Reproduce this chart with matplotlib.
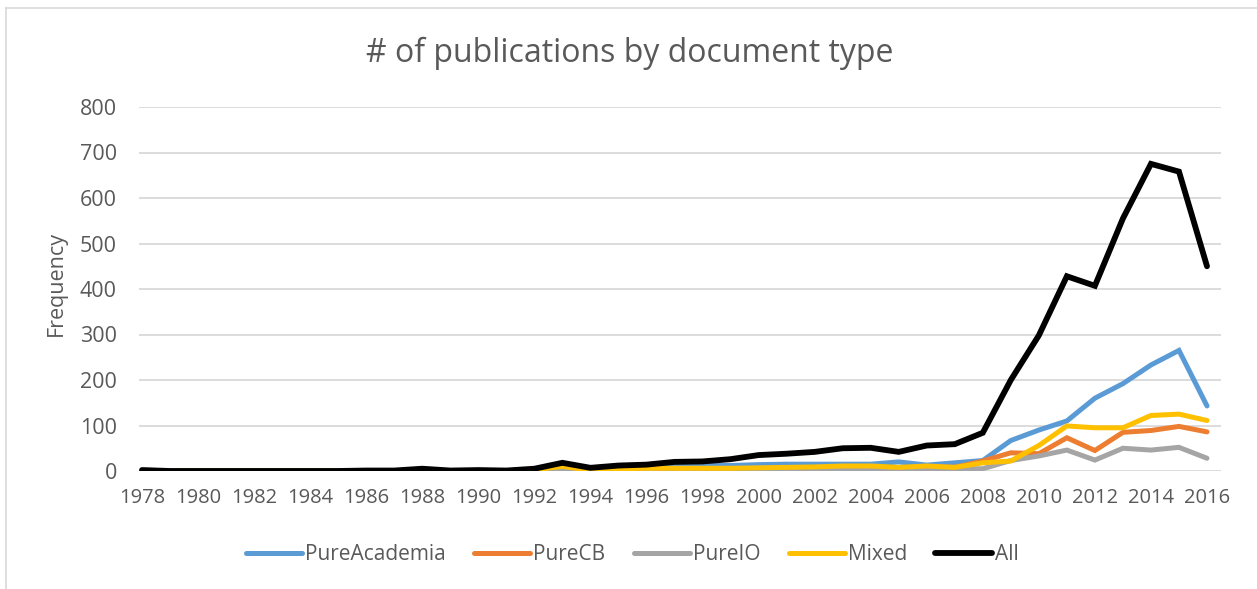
import matplotlib
matplotlib.use("Agg")
import matplotlib.pyplot as plt
from matplotlib.lines import Line2D

plt.rcParams['font.family'] = ['Open Sans', 'DejaVu Sans']

years = list(range(1978, 2017))
pure_academia = [2, 0, 0, 0, 0, 0, 0, 0, 1, 1, 1, 1, 1, 1, 2, 5, 4, 6, 9, 11,
                 12, 12, 14, 15, 15, 15, 15, 20, 13, 18, 23, 67, 90, 110, 160,
                 192, 233, 265, 143]
pure_cb = [0, 0, 0, 0, 0, 0, 0, 0, 0, 0, 1, 0, 0, 0, 1, 2, 1, 2, 3, 3,
           5, 4, 5, 6, 6, 8, 9, 6, 9, 8, 22, 40, 38, 73, 45,
           85, 89, 98, 86]
pure_io = [0, 0, 0, 0, 0, 0, 0, 0, 0, 0, 0, 0, 0, 0, 0, 0, 0, 0, 0, 1,
           1, 1, 2, 3, 3, 5, 5, 3, 4, 5, 5, 23, 33, 46, 24,
           50, 46, 52, 28]
mixed = [0, 0, 0, 0, 0, 0, 0, 0, 0, 0, 4, 1, 1, 0, 3, 10, 2, 5, 6, 6,
         6, 6, 7, 8, 9, 11, 11, 8, 11, 8, 18, 22, 56, 99, 95,
         95, 122, 125, 111]
all_docs = [2, 0, 0, 0, 0, 0, 0, 0, 1, 1, 5, 1, 2, 1, 5, 18, 7, 12, 14, 20,
            21, 26, 35, 38, 42, 50, 51, 42, 56, 59, 84, 200, 298, 428, 407,
            555, 675, 658, 450]

series_names = ["PureAcademia", "PureCB", "PureIO", "Mixed", "All"]
series_values = [pure_academia, pure_cb, pure_io, mixed, all_docs]
colors = ["#5B9BD5", "#ED7D31", "#A5A5A5", "#FFC000", "#000000"]
widths = [3.6, 3.6, 3.6, 3.6, 4.2]
x_ticks = list(range(1978, 2017, 2))
y_ticks = list(range(0, 801, 100))

W, H = 1257, 589
fig = plt.figure(figsize=(W / 100, H / 100), dpi=100)
fig.patch.set_facecolor("white")

ax = fig.add_axes([139 / W, (H - 471) / H, (1221 - 139) / W, (471 - 107) / H])

for name, vals, c, lw in zip(series_names, series_values, colors, widths):
    ax.plot(years, vals, color=c, lw=lw, label=name,
            solid_capstyle="round", solid_joinstyle="miter", zorder=3)

ax.set_xlim(1978 - 3 / 28.03, 2016 + 14 / 28.03)
ax.set_ylim(0, 800)
ax.set_xticks(x_ticks)
ax.set_xticklabels([str(t) for t in x_ticks])
ax.set_yticks(y_ticks)
ax.grid(axis="y", color="#D9D9D9", lw=1.3, zorder=0)
ax.grid(axis="x", visible=False)
for s in ax.spines.values():
    s.set_visible(False)
ax.tick_params(axis="both", length=0, colors="#595959")
ax.tick_params(axis="x", pad=12, labelsize=14.5)
ax.tick_params(axis="y", pad=16, labelsize=15.5)

fig.text(630 / W, 1 - 53 / H, "# of publications by document type",
         ha="center", va="center", fontsize=23, color="#595959")
fig.text(56 / W, 1 - 284 / H, "Frequency", rotation=90, ha="center",
         va="center", fontsize=15.5, color="#595959")

leg = fig.legend(loc="center", bbox_to_anchor=(632 / W, 1 - 555 / H), ncol=5,
                 frameon=False, fontsize=15, handlelength=2.7,
                 handletextpad=0.15, columnspacing=1.35)
for t in leg.get_texts():
    t.set_color("#595959")

fig.add_artist(Line2D([6 / W, 6 / W], [0, 1 - 8 / H], transform=fig.transFigure,
                      color="#D9D9D9", lw=1.2))
fig.add_artist(Line2D([6 / W, 1], [1 - 8 / H, 1 - 8 / H], transform=fig.transFigure,
                      color="#D9D9D9", lw=1.2))

fig.savefig("out.png", dpi=100, facecolor="white")
